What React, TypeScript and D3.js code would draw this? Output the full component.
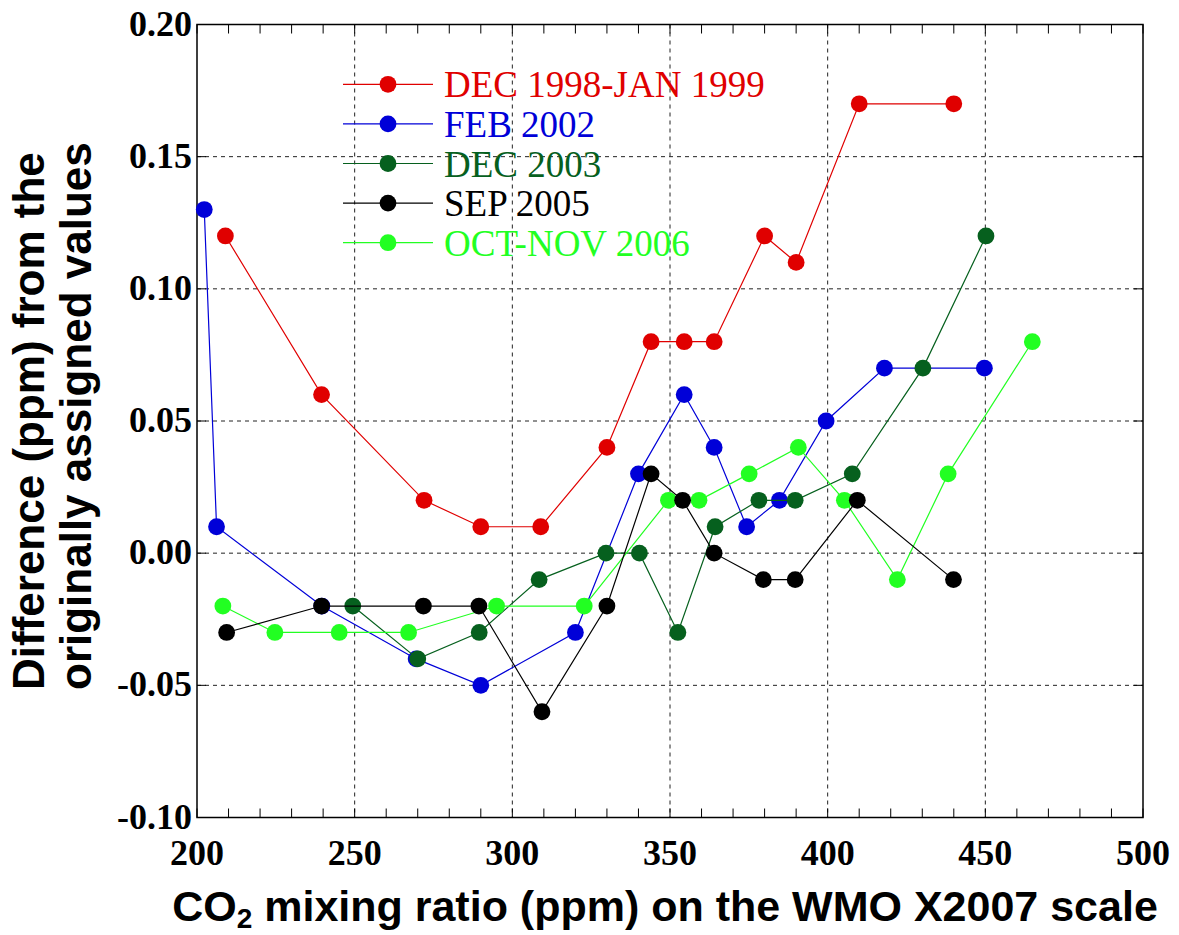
import React from "react";
import * as d3 from "d3";

const xTicks = [200, 250, 300, 350, 400, 450, 500];
const yTicks = [-0.1, -0.05, 0, 0.05, 0.1, 0.15, 0.2];

const redX = [209, 239.5, 272, 290, 309, 330, 344, 354.5, 364, 380, 390, 410, 440];
const redY = [0.12, 0.06, 0.02, 0.01, 0.01, 0.04, 0.08, 0.08, 0.08, 0.12, 0.11, 0.17, 0.17];

const blueX = [202.3, 206.2, 239.6, 269.5, 290, 320, 340, 354.5, 364, 374.3, 384.7, 399.5, 418, 449.7];
const blueY = [0.13, 0.01, -0.02, -0.04, -0.05, -0.03, 0.03, 0.06, 0.04, 0.01, 0.02, 0.05, 0.07, 0.07];

const dkGreenX = [249.4, 270, 289.5, 308.5, 329.7, 340.3, 352.5, 364.3, 378.2, 389.7, 407.8, 430.2, 450.2];
const dkGreenY = [-0.02, -0.04, -0.03, -0.01, 0.0, 0.0, -0.03, 0.01, 0.02, 0.02, 0.03, 0.07, 0.12];

const blackX = [209.4, 239.5, 271.8, 289.4, 309.4, 330, 344, 354, 364, 379.6, 389.7, 409.4, 439.9];
const blackY = [-0.03, -0.02, -0.02, -0.02, -0.06, -0.02, 0.03, 0.02, 0.0, -0.01, -0.01, 0.02, -0.01];

const ltGreenX = [208.2, 224.7, 245.1, 267.1, 295, 322.8, 349.5, 359.2, 375.1, 390.7, 405.3, 422.1, 438.2, 464.9];
const ltGreenY = [-0.02, -0.03, -0.03, -0.03, -0.02, -0.02, 0.02, 0.02, 0.03, 0.04, 0.02, -0.01, 0.03, 0.08];

const seriesNames = ["DEC 1998-JAN 1999", "FEB 2002", "DEC 2003", "SEP 2005", "OCT-NOV 2006"];
const seriesColors = ["#e00000", "#0000d8", "#06601e", "#000000", "#22ff22"];

export default function App() {
  const W = 1179, H = 935;
  const L = 197, R = 1143, T = 24.5, B = 817.5;
  const x = d3.scaleLinear().domain([200, 500]).range([L, R]);
  const y = d3.scaleLinear().domain([-0.1, 0.2]).range([B, T]);

  const allSeries = [
    { xs: redX, ys: redY },
    { xs: blueX, ys: blueY },
    { xs: dkGreenX, ys: dkGreenY },
    { xs: blackX, ys: blackY },
    { xs: ltGreenX, ys: ltGreenY },
  ];
  const drawOrder = [0, 1, 2, 4, 3];
  const line = d3.line<[number, number]>().x(d => x(d[0])).y(d => y(d[1]));
  const minorX = d3.range(200, 501, 10);
  const fmtY = (v: number) => (Math.abs(v) < 1e-9 ? "0.00" : v.toFixed(2));
  const serif = "'Liberation Serif', 'Times New Roman', serif";
  const sans = "'Liberation Sans', Arial, sans-serif";
  const legendY0 = 84.3, legendDy = 39.6;
  const r = 8.4;

  return (
    <svg width={W} height={H} style={{ position: "absolute", left: 0, top: 0, background: "#fff" }}>
      <rect x={0} y={0} width={W} height={H} fill="#fff" />
      {/* grid */}
      {xTicks.slice(1, -1).map(t => (
        <line key={"gx" + t} x1={x(t)} x2={x(t)} y1={T} y2={B} stroke="#222" strokeWidth={1} strokeDasharray="4,4" />
      ))}
      {yTicks.slice(1, -1).map(t => (
        <line key={"gy" + t} x1={L} x2={R} y1={y(t)} y2={y(t)} stroke="#222" strokeWidth={1} strokeDasharray="4,4" />
      ))}
      {/* minor ticks top/bottom */}
      {minorX.map(t => (
        <g key={"mx" + t}>
          <line x1={x(t)} x2={x(t)} y1={T} y2={T + 9} stroke="#000" strokeWidth={1} />
          <line x1={x(t)} x2={x(t)} y1={B} y2={B - 9} stroke="#000" strokeWidth={1} />
        </g>
      ))}
      {yTicks.map(t => (
        <g key={"my" + t}>
          <line x1={L} x2={L + 9} y1={y(t)} y2={y(t)} stroke="#000" strokeWidth={1} />
          <line x1={R} x2={R - 9} y1={y(t)} y2={y(t)} stroke="#000" strokeWidth={1} />
        </g>
      ))}
      {/* frame */}
      <rect x={L} y={T} width={R - L} height={B - T} fill="none" stroke="#000" strokeWidth={1.5} />
      {/* tick labels */}
      {yTicks.map(t => (
        <text key={"ly" + t} x={L - 5} y={y(t) + 11} textAnchor="end" fontFamily={serif} fontWeight="bold" fontSize={36} fill="#000">
          {fmtY(t)}
        </text>
      ))}
      {xTicks.map(t => (
        <text key={"lx" + t} x={x(t)} y={865} textAnchor="middle" fontFamily={serif} fontWeight="bold" fontSize={36} fill="#000">
          {t}
        </text>
      ))}
      {/* series */}
      {drawOrder.map(i => {
        const s = allSeries[i];
        const pts: [number, number][] = s.xs.map((v, k) => [v, s.ys[k]]);
        return (
          <g key={"s" + i}>
            <path d={line(pts) || ""} fill="none" stroke={seriesColors[i]} strokeWidth={1.2} />
            {pts.map((p, k) => (
              <circle key={k} cx={x(p[0])} cy={y(p[1])} r={r} fill={seriesColors[i]} />
            ))}
          </g>
        );
      })}
      {/* legend */}
      {seriesNames.map((n, i) => {
        const ly = legendY0 + i * legendDy;
        return (
          <g key={"lg" + i}>
            <line x1={343} x2={433} y1={ly} y2={ly} stroke={seriesColors[i]} strokeWidth={1.2} />
            <circle cx={388} cy={ly} r={r} fill={seriesColors[i]} />
            <text x={444} y={ly + 13} fontFamily={serif} fontSize={37} fill={seriesColors[i]}>{n}</text>
          </g>
        );
      })}
      {/* axis titles */}
      <text x={665} y={921} textAnchor="middle" fontFamily={sans} fontWeight="bold" fontSize={43} fill="#000">
        CO<tspan fontSize={28} dy={7}>2</tspan><tspan dy={-7}> mixing ratio (ppm) on the WMO X2007 scale</tspan>
      </text>
      <g transform="translate(44,690) rotate(-90)">
        <text x={0} y={0} textAnchor="start" fontFamily={sans} fontWeight="bold" fontSize={44} fill="#000">
          Difference (ppm) from the
        </text>
      </g>
      <g transform="translate(91,690) rotate(-90)">
        <text x={0} y={0} textAnchor="start" fontFamily={sans} fontWeight="bold" fontSize={44} fill="#000">
          originally assigned values
        </text>
      </g>
    </svg>
  );
}
